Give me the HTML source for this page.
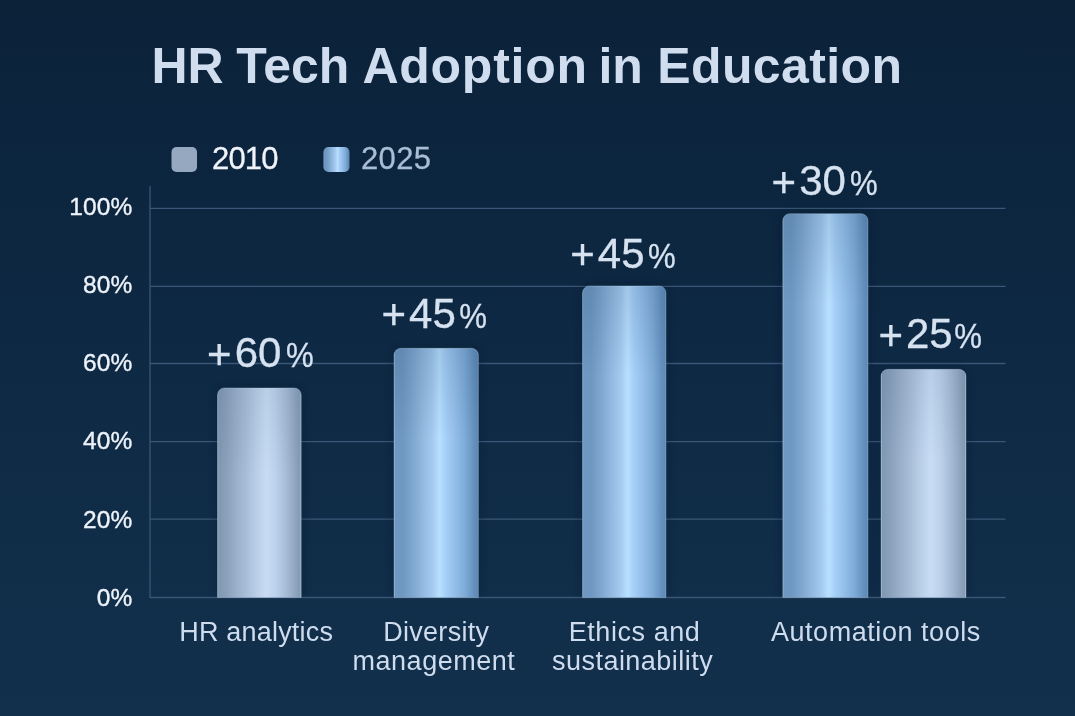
<!DOCTYPE html>
<html lang="en">
<head>
<meta charset="utf-8">
<title>HR Tech Adoption in Education</title>
<style>
html,body{margin:0;padding:0;background:#0e2944;}
body{width:1075px;height:716px;overflow:hidden;font-family:"Liberation Sans",sans-serif;}
svg{display:block;}
text{font-family:"Liberation Sans",sans-serif;}
.title{font-weight:700;font-size:50px;fill:#d0ddee;}
.ylab{font-size:24.5px;fill:#eef3fa;text-anchor:end;stroke:#eef3fa;stroke-width:0.35px;letter-spacing:0.1px;}
.xlab{font-size:27px;fill:#cfdcee;text-anchor:middle;}
.val{font-size:42px;fill:#d6e2f0;stroke:#d6e2f0;stroke-width:0.3px;}
.pct{font-size:35.8px;}
.grid{stroke:#3b5676;stroke-width:1.3;}
</style>
</head>
<body>
<svg width="1075" height="716" viewBox="0 0 1075 716">
<defs>
<linearGradient id="bg" x1="0" y1="0" x2="0" y2="1">
<stop offset="0" stop-color="#0b2239"/>
<stop offset="0.5" stop-color="#0e2944"/>
<stop offset="1" stop-color="#12304c"/>
</linearGradient>
<linearGradient id="blue" x1="0" y1="0" x2="1" y2="0">
<stop offset="0" stop-color="#86aad0"/>
<stop offset="0.015" stop-color="#6e97c1"/>
<stop offset="0.10" stop-color="#6e97c1"/>
<stop offset="0.22" stop-color="#7fa6cf"/>
<stop offset="0.34" stop-color="#93b9e0"/>
<stop offset="0.45" stop-color="#a3c9ef"/>
<stop offset="0.54" stop-color="#b8e0fe"/>
<stop offset="0.62" stop-color="#a5cef6"/>
<stop offset="0.72" stop-color="#94bfea"/>
<stop offset="0.84" stop-color="#7eabd7"/>
<stop offset="0.95" stop-color="#6590bd"/>
<stop offset="1" stop-color="#5c88b5"/>
</linearGradient>
<linearGradient id="gray" x1="0" y1="0" x2="1" y2="0">
<stop offset="0" stop-color="#9cb3cd"/>
<stop offset="0.015" stop-color="#8198b3"/>
<stop offset="0.11" stop-color="#8ba1bb"/>
<stop offset="0.23" stop-color="#9bb0ca"/>
<stop offset="0.35" stop-color="#a9bed8"/>
<stop offset="0.46" stop-color="#b9cee7"/>
<stop offset="0.585" stop-color="#c8ddf4"/>
<stop offset="0.70" stop-color="#bcd1ea"/>
<stop offset="0.83" stop-color="#a5bad4"/>
<stop offset="0.955" stop-color="#8a9fb9"/>
<stop offset="0.985" stop-color="#859ab4"/>
<stop offset="1" stop-color="#a3b7cf"/>
</linearGradient>
<filter id="sh" x="-30%" y="-10%" width="160%" height="120%"><feGaussianBlur stdDeviation="5"/></filter>
<clipPath id="plot"><rect x="150" y="180" width="860" height="417.5"/></clipPath>
<linearGradient id="tg0" gradientUnits="userSpaceOnUse" x1="0" y1="387.9" x2="0" y2="477.9"><stop offset="0" stop-color="#12365c" stop-opacity="0.08"/><stop offset="1" stop-color="#12365c" stop-opacity="0"/></linearGradient>
<linearGradient id="tg1" gradientUnits="userSpaceOnUse" x1="0" y1="348.3" x2="0" y2="438.3"><stop offset="0" stop-color="#12365c" stop-opacity="0.14"/><stop offset="1" stop-color="#12365c" stop-opacity="0"/></linearGradient>
<linearGradient id="tg2" gradientUnits="userSpaceOnUse" x1="0" y1="286.0" x2="0" y2="376.0"><stop offset="0" stop-color="#12365c" stop-opacity="0.14"/><stop offset="1" stop-color="#12365c" stop-opacity="0"/></linearGradient>
<linearGradient id="tg3" gradientUnits="userSpaceOnUse" x1="0" y1="213.7" x2="0" y2="303.7"><stop offset="0" stop-color="#12365c" stop-opacity="0.14"/><stop offset="1" stop-color="#12365c" stop-opacity="0"/></linearGradient>
<linearGradient id="tg4" gradientUnits="userSpaceOnUse" x1="0" y1="369.3" x2="0" y2="459.3"><stop offset="0" stop-color="#12365c" stop-opacity="0.08"/><stop offset="1" stop-color="#12365c" stop-opacity="0"/></linearGradient>
</defs>
<rect width="1075" height="716" fill="url(#bg)"/>

<text class="title" x="151.5" y="83.2">HR</text>
<text class="title" x="236.3" y="83.2">Tech</text>
<text class="title" x="362.4" y="83.2" style="letter-spacing:0.75px">Adoption</text>
<text class="title" x="598.4" y="83.2">in</text>
<text class="title" x="657.2" y="83.2" style="letter-spacing:0.4px">Education</text>

<!-- legend -->
<rect x="171.5" y="147" width="25.5" height="25" rx="5" fill="#96a8c0"/>
<text x="212" y="168.7" font-size="31" fill="#f0f4fa" stroke="#f0f4fa" stroke-width="0.3" textLength="66.5" lengthAdjust="spacing">2010</text>
<rect x="323.5" y="147" width="26" height="25" rx="5" fill="url(#blue)"/>
<text x="361" y="168.7" font-size="31" fill="#a9bdd4" stroke="#a9bdd4" stroke-width="0.3" textLength="70" lengthAdjust="spacing">2025</text>

<!-- grid -->
<g class="grid">
<line x1="150" y1="208.3" x2="1005.5" y2="208.3"/>
<line x1="150" y1="286.3" x2="1005.5" y2="286.3"/>
<line x1="150" y1="363.5" x2="1005.5" y2="363.5"/>
<line x1="150" y1="441.6" x2="1005.5" y2="441.6"/>
<line x1="150" y1="519.2" x2="1005.5" y2="519.2"/>
<line x1="150" y1="597.5" x2="1005.5" y2="597.5"/>
<line x1="150" y1="186" x2="150" y2="598"/>
</g>

<!-- y labels -->
<text class="ylab" x="132.4" y="215">100%</text>
<text class="ylab" x="132.4" y="293">80%</text>
<text class="ylab" x="132.4" y="371.3">60%</text>
<text class="ylab" x="132.4" y="449">40%</text>
<text class="ylab" x="132.4" y="527.6">20%</text>
<text class="ylab" x="132.4" y="605.7">0%</text>

<!-- bars -->
<g clip-path="url(#plot)"><g filter="url(#sh)" fill="#07182b" opacity="0.45">
<path d="M217.5 597.5V394.9a7 7 0 0 1 7-7h69.7a7 7 0 0 1 7 7V597.5Z"/>
<path d="M394 597.5V355.3a7 7 0 0 1 7-7h70.4a7 7 0 0 1 7 7V597.5Z"/>
<path d="M582.5 597.5V293a7 7 0 0 1 7-7h69.5a7 7 0 0 1 7 7V597.5Z"/>
<path d="M782.8 597.5V220.7a7 7 0 0 1 7-7h71.2a7 7 0 0 1 7 7V597.5Z"/>
<path d="M881 597.5V376.3a7 7 0 0 1 7-7h71a7 7 0 0 1 7 7V597.5Z"/>
</g></g>
<path d="M217.5 597.5V394.9a7 7 0 0 1 7-7h69.7a7 7 0 0 1 7 7V597.5Z" fill="url(#gray)"/>
<path d="M394 597.5V355.3a7 7 0 0 1 7-7h70.4a7 7 0 0 1 7 7V597.5Z" fill="url(#blue)"/>
<path d="M582.5 597.5V293a7 7 0 0 1 7-7h69.5a7 7 0 0 1 7 7V597.5Z" fill="url(#blue)"/>
<path d="M782.8 597.5V220.7a7 7 0 0 1 7-7h71.2a7 7 0 0 1 7 7V597.5Z" fill="url(#blue)"/>
<path d="M881 597.5V376.3a7 7 0 0 1 7-7h71a7 7 0 0 1 7 7V597.5Z" fill="url(#gray)"/>
<path d="M217.5 597.5V394.9a7 7 0 0 1 7-7h69.7a7 7 0 0 1 7 7V597.5Z" fill="url(#tg0)"/>
<path d="M394 597.5V355.3a7 7 0 0 1 7-7h70.4a7 7 0 0 1 7 7V597.5Z" fill="url(#tg1)"/>
<path d="M582.5 597.5V293a7 7 0 0 1 7-7h69.5a7 7 0 0 1 7 7V597.5Z" fill="url(#tg2)"/>
<path d="M782.8 597.5V220.7a7 7 0 0 1 7-7h71.2a7 7 0 0 1 7 7V597.5Z" fill="url(#tg3)"/>
<path d="M881 597.5V376.3a7 7 0 0 1 7-7h71a7 7 0 0 1 7 7V597.5Z" fill="url(#tg4)"/>
<path d="M217.5 597.5V394.9a7 7 0 0 1 7-7h69.7a7 7 0 0 1 7 7V597.5Z" fill="none" stroke="#cfe6fb" stroke-opacity="0.28" stroke-width="1"/>
<path d="M394 597.5V355.3a7 7 0 0 1 7-7h70.4a7 7 0 0 1 7 7V597.5Z" fill="none" stroke="#cfe6fb" stroke-opacity="0.28" stroke-width="1"/>
<path d="M582.5 597.5V293a7 7 0 0 1 7-7h69.5a7 7 0 0 1 7 7V597.5Z" fill="none" stroke="#cfe6fb" stroke-opacity="0.28" stroke-width="1"/>
<path d="M782.8 597.5V220.7a7 7 0 0 1 7-7h71.2a7 7 0 0 1 7 7V597.5Z" fill="none" stroke="#cfe6fb" stroke-opacity="0.28" stroke-width="1"/>
<path d="M881 597.5V376.3a7 7 0 0 1 7-7h71a7 7 0 0 1 7 7V597.5Z" fill="none" stroke="#cfe6fb" stroke-opacity="0.28" stroke-width="1"/>


<!-- value labels -->
<text class="val" x="207.1" y="367.3"><tspan dy="1.5">+</tspan><tspan dx="3" dy="-1.5">60</tspan></text>
<text class="val pct" transform="translate(286.1 367.3) scale(0.87 1)">%</text>
<text class="val" x="381.5" y="327.8"><tspan dy="1.5">+</tspan><tspan dx="3" dy="-1.5">45</tspan></text>
<text class="val pct" transform="translate(459.2 327.8) scale(0.87 1)">%</text>
<text class="val" x="570.3" y="267.5"><tspan dy="1.5">+</tspan><tspan dx="3" dy="-1.5">45</tspan></text>
<text class="val pct" transform="translate(648.0 267.5) scale(0.87 1)">%</text>
<text class="val" x="771.6" y="195.2"><tspan dy="1.5">+</tspan><tspan dx="3" dy="-1.5">30</tspan></text>
<text class="val pct" transform="translate(850.1 195.2) scale(0.87 1)">%</text>
<text class="val" x="878.4" y="348"><tspan dy="1.5">+</tspan><tspan dx="3" dy="-1.5">25</tspan></text>
<text class="val pct" transform="translate(954.2 348) scale(0.87 1)">%</text>

<!-- x labels -->
<text class="xlab" x="256.2" y="640.8" style="letter-spacing:0.2px">HR analytics</text>
<text class="xlab" x="436.25" y="640.8" style="letter-spacing:0.3px">Diversity</text>
<text class="xlab" x="433.9" y="669.5" style="letter-spacing:0.5px">management</text>
<text class="xlab" x="634.55" y="640.8" style="letter-spacing:0.55px">Ethics and</text>
<text class="xlab" x="632.6" y="669.5" style="letter-spacing:0.47px">sustainability</text>
<text class="xlab" x="875.9" y="640.8" style="letter-spacing:0.55px">Automation tools</text>
</svg>
</body>
</html>
